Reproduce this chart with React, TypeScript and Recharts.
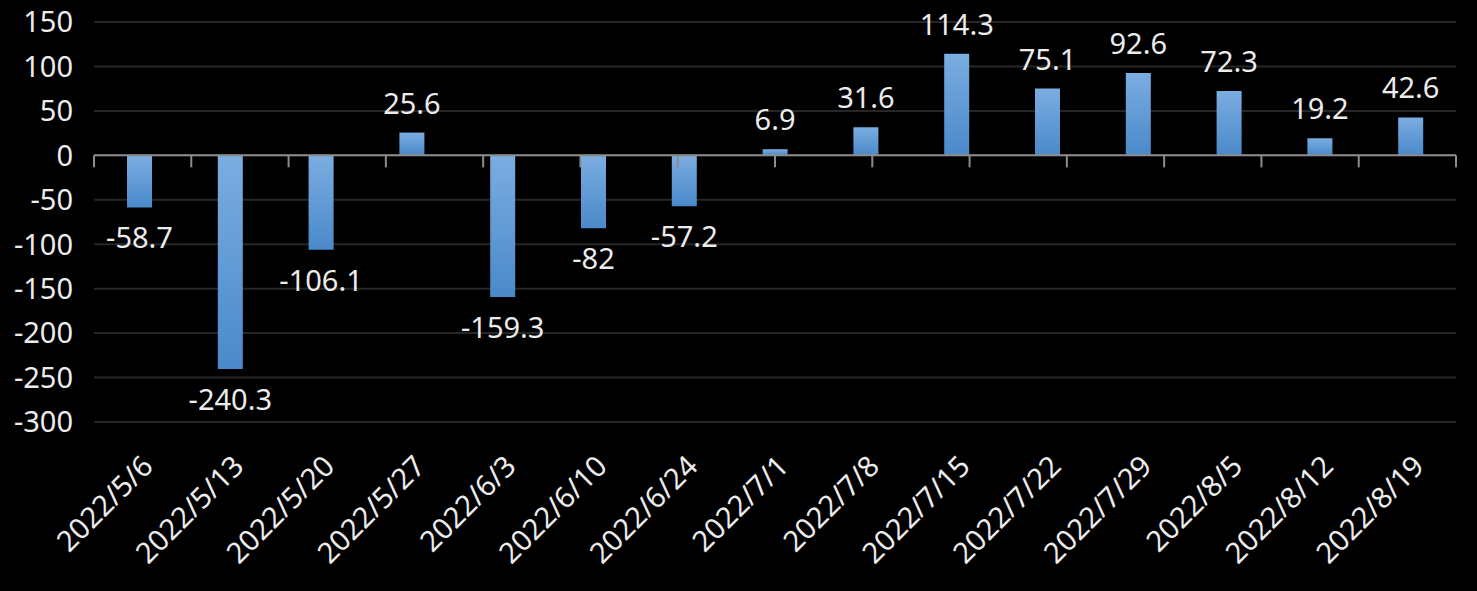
import React from 'react';
import { BarChart, Bar, XAxis, YAxis, CartesianGrid, ReferenceLine, LabelList } from 'recharts';

const categories = ['2022/5/6', '2022/5/13', '2022/5/20', '2022/5/27', '2022/6/3', '2022/6/10', '2022/6/24', '2022/7/1', '2022/7/8', '2022/7/15', '2022/7/22', '2022/7/29', '2022/8/5', '2022/8/12', '2022/8/19'];
const values = [-58.7, -240.3, -106.1, 25.6, -159.3, -82, -57.2, 6.9, 31.6, 114.3, 75.1, 92.6, 72.3, 19.2, 42.6];
const yTicks = [-300, -250, -200, -150, -100, -50, 0, 50, 100, 150];

const data = categories.map((c, i) => ({ date: c, value: values[i] }));
const edges = categories.map((_, i) => i).concat([categories.length]);

const FONT = '"Noto Sans", "Open Sans", sans-serif';
const TEXT = '#ececec';
const FS = 29;

const XTick = (props: any) => {
  const { x, y, payload } = props;
  return (
    <g transform={`translate(${x - 6},${y + 28})`}>
      <text x={0} y={0} dx={8} dy={22} textAnchor="end" fill={TEXT} fontSize={FS} fontFamily={FONT} transform="rotate(-45)">
        {payload.value}
      </text>
    </g>
  );
};

const BarLabel = (props: any) => {
  const { x, y, width, height, value } = props;
  const top = Math.min(y, y + height);
  const bottom = Math.max(y, y + height);
  const cx = x + width / 2;
  if (value >= 0) {
    return (
      <text x={cx} y={top - 19} textAnchor="middle" fill={TEXT} fontSize={FS} fontFamily={FONT}>{value}</text>
    );
  }
  return (
    <text x={cx} y={bottom + 20} dy="0.72em" textAnchor="middle" fill={TEXT} fontSize={FS} fontFamily={FONT}>{value}</text>
  );
};

const EdgeTick = (props: any) => {
  const { x1, y1 } = props;
  return <line x1={x1} y1={y1} x2={x1} y2={y1 + 12} stroke="#8c8c8c" strokeWidth={2} />;
};

export default function App() {
  return (
    <div style={{ position: 'fixed', left: 0, top: 0, right: 0, bottom: 0, background: '#000', overflow: 'hidden' }}>
      <div style={{ position: 'absolute', left: 8, top: 0 }}>
        <BarChart width={1461} height={591} data={data} margin={{ top: 22, right: 13, left: 0, bottom: 0 }}>
          <defs>
            <linearGradient id="barGrad" x1="0" y1="0" x2="0" y2="1">
              <stop offset="0%" stopColor="#7bade1" />
              <stop offset="100%" stopColor="#4a89ca" />
            </linearGradient>
          </defs>
          <CartesianGrid vertical={false} stroke="#262626" strokeWidth={2} />
          <XAxis dataKey="date" height={169} axisLine={false} tickLine={false} interval={0} tick={<XTick />} />
          <XAxis xAxisId="edge" type="number" domain={[0, categories.length]} hide allowDataOverflow />
          <YAxis domain={[-300, 150]} ticks={yTicks} width={86} axisLine={false} tickLine={false} tickSize={6} tickMargin={15}
            tick={{ fill: TEXT, fontSize: FS, fontFamily: FONT }} interval={0} />
          <Bar dataKey="value" fill="url(#barGrad)" barSize={25} isAnimationActive={false}>
            <LabelList dataKey="value" content={<BarLabel />} />
          </Bar>
          <ReferenceLine y={0} stroke="#8c8c8c" strokeWidth={2} />
          {edges.map((e) => (
            <ReferenceLine key={e} xAxisId="edge" segment={[{ x: e, y: 0 }, { x: e, y: 0 }]} shape={<EdgeTick />} ifOverflow="visible" />
          ))}
        </BarChart>
      </div>
    </div>
  );
}
